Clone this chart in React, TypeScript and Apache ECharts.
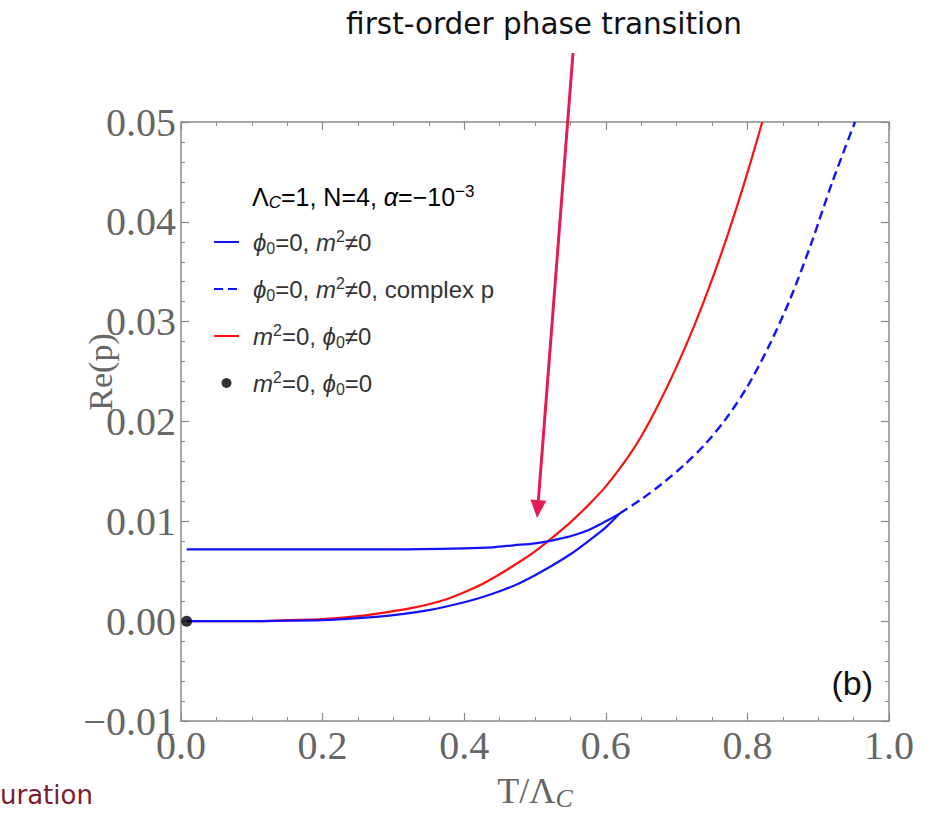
import React, { useEffect, useRef } from "react";
import * as echarts from "echarts";

// ---- data ----
const X_TICK_LABELS = ["0.0", "0.2", "0.4", "0.6", "0.8", "1.0"];
const Y_TICK_LABELS = ["\u22120.01", "0.00", "0.01", "0.02", "0.03", "0.04", "0.05"];

// phi0=0, m^2!=0 : upper real branch
const T_UPPER = [0.008, 0.1, 0.2, 0.3, 0.4, 0.44, 0.47, 0.5, 0.525, 0.55, 0.575, 0.6, 0.62];
const P_UPPER = [0.0072, 0.0072, 0.0072, 0.0072, 0.0073, 0.0074, 0.0076, 0.0078, 0.0081, 0.0085, 0.0091, 0.01, 0.0108];
// phi0=0, m^2!=0 : lower real branch
const T_LOWER = [0.008, 0.1, 0.15, 0.2, 0.25, 0.3, 0.35, 0.4, 0.425, 0.45, 0.475, 0.5, 0.525, 0.55, 0.575, 0.6, 0.62];
const P_LOWER = [0, 0, 0.00005, 0.0001, 0.0003, 0.0006, 0.0011, 0.0019, 0.0024, 0.003, 0.0037, 0.0046, 0.0056, 0.0067, 0.008, 0.0094, 0.0108];
// phi0=0, m^2!=0 : complex p (real part)
const T_COMPLEX = [0.62, 0.65, 0.68, 0.71, 0.74, 0.77, 0.8, 0.83, 0.86, 0.89, 0.92, 0.952];
const P_COMPLEX = [0.0108, 0.0122, 0.0138, 0.0156, 0.0177, 0.0203, 0.0235, 0.0275, 0.0322, 0.0378, 0.044, 0.05];
// m^2=0, phi0!=0
const T_RED = [0.008, 0.1, 0.15, 0.2, 0.25, 0.3, 0.325, 0.35, 0.375, 0.4, 0.425, 0.45, 0.475, 0.5, 0.525, 0.55, 0.575, 0.6, 0.625, 0.65, 0.675, 0.7, 0.725, 0.75, 0.775, 0.8, 0.821];
const P_RED = [0, 0, 0.0001, 0.0002, 0.0005, 0.001, 0.0013, 0.0017, 0.0022, 0.0029, 0.0037, 0.0047, 0.0058, 0.007, 0.0084, 0.0099, 0.0116, 0.0135, 0.0158, 0.0185, 0.0218, 0.0255, 0.0296, 0.0342, 0.0393, 0.0449, 0.05];
// m^2=0, phi0=0
const T_DOT = [0.008];
const P_DOT = [0];

const NAME_SOLID = "\u03d50=0, m2\u22600";
const NAME_DASHED = "\u03d50=0, m2\u22600, complex p";
const NAME_RED = "m2=0, \u03d50\u22600";
const NAME_DOT = "m2=0, \u03d50=0";

const LEGEND_RICH_LABELS: Record<string, string> = {
  [NAME_SOLID]: "{i|\u03d5}{sub|0}{n|=0, }{i|m}{sup|2}{n|\u22600}",
  [NAME_DASHED]: "{i|\u03d5}{sub|0}{n|=0, }{i|m}{sup|2}{n|\u22600, complex p}",
  [NAME_RED]: "{i|m}{sup|2}{n|=0, }{i|\u03d5}{sub|0}{n|\u22600}",
  [NAME_DOT]: "{i|m}{sup|2}{n|=0, }{i|\u03d5}{sub|0}{n|=0}",
};

const zip = (xs: number[], ys: number[]) => xs.map((x, i) => [x, ys[i]]);

const X_MIN = 0, X_MAX = 1, X_INT = 0.2;
const Y_MIN = -0.01, Y_MAX = 0.05, Y_INT = 0.01;

const AXIS_COLOR = "#8a8a8a";
const LABEL_COLOR = "#666666";
const SERIF = "'Liberation Serif', 'Times New Roman', serif";
const SANS = "'Liberation Sans', Arial, sans-serif";
const BLUE = "#1111ff";
const RED = "#ff1010";

const legendRich = {
  n: { fontFamily: SANS, fontSize: 24, color: "#333", lineHeight: 28 },
  i: { fontFamily: SANS, fontSize: 24, color: "#333", fontStyle: "italic", lineHeight: 28 },
  sup: { fontFamily: SANS, fontSize: 16, color: "#333", verticalAlign: "top", lineHeight: 16 },
  sub: { fontFamily: SANS, fontSize: 16, color: "#333", verticalAlign: "bottom", lineHeight: 16 },
  subi: { fontFamily: SANS, fontSize: 16, color: "#333", fontStyle: "italic", verticalAlign: "bottom", lineHeight: 16 },
};

const headerRich = {
  n: { ...legendRich.n, fontSize: 25 },
  i: { ...legendRich.i, fontSize: 25 },
  sup: { ...legendRich.sup, fontSize: 17 },
  subi: { ...legendRich.subi, fontSize: 17 },
};

function makeAxisCommon(isX: boolean) {
  return {
    type: "value" as const,
    min: isX ? X_MIN : Y_MIN,
    max: isX ? X_MAX : Y_MAX,
    interval: isX ? X_INT : Y_INT,
    splitLine: { show: false },
    axisLine: { show: true, onZero: false, lineStyle: { color: AXIS_COLOR, width: 1.5 } },
    axisTick: { show: true, inside: true, length: 8, lineStyle: { color: AXIS_COLOR, width: 1.2 } },
    minorTick: { show: true, splitNumber: isX ? 4 : 5, length: 4, lineStyle: { color: AXIS_COLOR, width: 1 } },
  };
}

const hiddenSymbol = { color: "rgba(0,0,0,0)", opacity: 0, borderWidth: 0 };

export default function App() {
  const ref = useRef<HTMLDivElement>(null);
  useEffect(() => {
    if (!ref.current) return;
    const chart = echarts.init(ref.current, null, { renderer: "svg" });

    // arrow geometry (annotation)
    const ax0 = 573, ay0 = 53, tipX = 537, tipY = 518;
    const dx = tipX - ax0, dy = tipY - ay0;
    const len = Math.sqrt(dx * dx + dy * dy);
    const ux = dx / len, uy = dy / len;
    const headL = 18, headW = 8;
    const bx = tipX - ux * headL, by = tipY - uy * headL;
    const px = -uy, py = ux;

    const lineCommon = { type: "line", symbol: "none", smooth: 0.3 };

    const option: any = {
      animation: false,
      backgroundColor: "#ffffff",
      grid: { left: 181, top: 122, right: 49, bottom: 95, containLabel: false },
      xAxis: [
        {
          ...makeAxisCommon(true),
          position: "bottom",
          name: "T/\u039b{c|C}",
          nameLocation: "middle",
          nameGap: 50,
          nameMoveOverlap: false,
          nameTextStyle: {
            fontFamily: SERIF, fontSize: 36, color: LABEL_COLOR, lineHeight: 40,
            rich: { c: { fontFamily: SERIF, fontSize: 26, fontStyle: "italic", color: LABEL_COLOR, verticalAlign: "bottom", lineHeight: 22 } },
          },
          axisLabel: {
            show: true, margin: 4, fontFamily: SERIF, fontSize: 40, color: LABEL_COLOR,
            formatter: (v: number) => X_TICK_LABELS[Math.round((v - X_MIN) / X_INT)] ?? "",
          },
        },
        { ...makeAxisCommon(true), position: "top", axisLabel: { show: false } },
      ],
      yAxis: [
        {
          ...makeAxisCommon(false),
          position: "left",
          axisLabel: {
            show: true, margin: 5, fontFamily: SERIF, fontSize: 40, color: LABEL_COLOR,
            formatter: (v: number) => Y_TICK_LABELS[Math.round((v - Y_MIN) / Y_INT)] ?? "",
          },
        },
        { ...makeAxisCommon(false), position: "right", axisLabel: { show: false } },
      ],
      legend: {
        orient: "vertical",
        left: 213,
        top: 228,
        itemWidth: 25,
        itemHeight: 10,
        itemGap: 19,
        padding: 0,
        data: [
          { name: NAME_SOLID, itemStyle: hiddenSymbol },
          { name: NAME_DASHED, itemStyle: hiddenSymbol },
          { name: NAME_RED, itemStyle: hiddenSymbol },
          { name: NAME_DOT },
        ],
        formatter: (name: string) => LEGEND_RICH_LABELS[name] ?? name,
        textStyle: { fontFamily: SANS, fontSize: 24, color: "#333", padding: [0, 0, 0, 9], rich: legendRich },
      },
      series: [
        { ...lineCommon, name: NAME_RED, data: zip(T_RED, P_RED), lineStyle: { color: RED, width: 2.2 }, itemStyle: { color: RED } },
        { ...lineCommon, name: NAME_SOLID, data: zip(T_UPPER, P_UPPER), lineStyle: { color: BLUE, width: 2.2 }, itemStyle: { color: BLUE } },
        { ...lineCommon, name: NAME_SOLID, data: zip(T_LOWER, P_LOWER), lineStyle: { color: BLUE, width: 2.2 }, itemStyle: { color: BLUE } },
        {
          ...lineCommon, name: NAME_DASHED, data: zip(T_COMPLEX, P_COMPLEX),
          lineStyle: { color: BLUE, width: 2.4, type: [9, 5] }, itemStyle: { color: BLUE },
        },
        {
          name: NAME_DOT, type: "scatter", data: zip(T_DOT, P_DOT), symbol: "circle", symbolSize: 11,
          itemStyle: { color: "#000" }, z: 5,
        },
      ],
      graphic: [
        {
          type: "text",
          style: {
            x: 544, y: 24, text: "first-order phase transition", fontFamily: "'DejaVu Sans', sans-serif",
            fontSize: 29.5, fill: "#111", align: "center", verticalAlign: "middle",
          },
        },
        {
          type: "text",
          rotation: Math.PI / 2,
          x: 100,
          y: 372,
          style: {
            x: 0, y: 0, text: "Re(p)", fontFamily: SERIF, fontSize: 34, fill: LABEL_COLOR,
            align: "center", verticalAlign: "middle",
          },
        },
        {
          type: "text",
          style: {
            x: 0, y: 795, text: "uration", fontFamily: "'DejaVu Sans', sans-serif",
            fontSize: 26, fill: "#7b1c2e", align: "left", verticalAlign: "middle",
          },
        },
        {
          type: "text",
          style: {
            x: 873, y: 683, text: "(b)", fontFamily: SANS, fontSize: 34, fill: "#111",
            align: "right", verticalAlign: "middle",
          },
        },
        {
          type: "text",
          style: {
            x: 252, y: 197, align: "left", verticalAlign: "middle",
            text: "{n|\u039b}{subi|C}{n|=1, N=4, }{i|\u03b1}{n|=\u221210}{sup|\u22123}",
            rich: headerRich,
          },
        },
        {
          type: "line",
          shape: { x1: ax0, y1: ay0, x2: bx, y2: by },
          style: { stroke: "#e31c54", lineWidth: 3 },
          z: 100,
        },
        {
          type: "polygon",
          shape: { points: [[tipX, tipY], [bx + px * headW, by + py * headW], [bx - px * headW, by - py * headW]] },
          style: { fill: "#e31c54" },
          z: 100,
        },
      ],
    };
    chart.setOption(option);
    return () => chart.dispose();
  }, []);
  return <div ref={ref} style={{ position: "fixed", left: 0, top: 0, width: 938, height: 816 }} />;
}
